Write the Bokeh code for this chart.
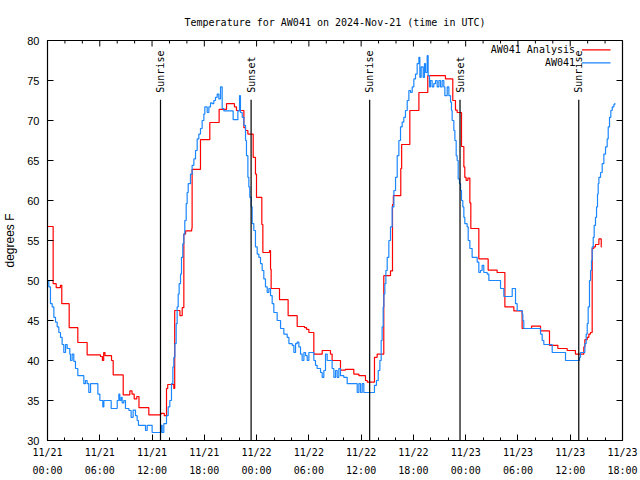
import math
from bokeh.plotting import figure
from bokeh.models import FixedTicker, LinearAxis, Range1d
from bokeh.embed import file_html
from bokeh.resources import INLINE
from bokeh.core.properties import value

# ---- data (hours since 2024-11-21 00:00 UTC, degrees F) ----
red_hours = [0.0, 0.65, 1.0, 1.48, 1.64, 2.49, 3.48, 4.55, 6.08, 6.3, 6.45, 6.6, 7.35, 7.54,
             8.69, 9.45, 9.7, 9.95, 10.25, 10.5, 11.63, 13.0, 13.4, 13.66, 13.8, 14.5, 14.6,
             15.2, 15.46, 15.65, 15.85, 16.55, 16.6, 17.56, 18.63, 19.7, 20.55, 21.46, 21.69,
             22.54, 22.73, 23.0, 23.61, 23.87, 23.99, 24.6, 24.72, 25.48, 25.6, 25.67, 26.63,
             27.62, 28.66, 29.5, 29.73, 30.0, 30.57, 31.53, 32.48, 32.67, 33.63, 34.2, 35.16,
             35.74, 36.5, 36.7, 37.53, 37.84, 38.6, 39.37, 39.6, 39.7, 40.55, 40.65, 41.59,
             42.63, 43.65, 45.68, 46.52, 46.83, 47.02, 47.52, 47.79, 47.9, 48.05, 48.25, 48.48,
             48.59, 49.51, 50.58, 51.61, 52.5, 53.53, 54.48, 55.56, 56.59, 57.62, 58.58, 59.65,
             60.6, 61.56, 61.68, 61.95, 62.14, 62.33, 62.52, 62.71, 62.9, 63.29, 63.56, 63.62]
red_temps = [56.75, 49.6, 49.1, 49.4, 47.1, 44.1, 42.25, 40.7, 40.5, 40.0, 41.0, 40.6, 40.0, 38.2,
             35.7, 36.2, 35.8, 35.2, 35.5, 34.1, 33.2, 33.4, 33.1, 36.5, 37.0, 36.5, 46.25,
             45.6, 46.6, 55.8, 56.2, 56.5, 63.9, 67.6, 69.75, 71.4, 72.1, 71.7, 71.25,
             69.1, 68.75, 68.3, 65.4, 63.3, 60.4, 57.0, 53.5, 53.75, 51.4, 49.0, 47.6,
             45.6, 44.25, 44.1, 43.9, 43.5, 40.8, 41.25, 40.8, 40.0, 38.8, 38.9, 38.3,
             38.1, 37.5, 37.3, 40.4, 40.8, 50.6, 51.2, 59.5, 60.6, 64.0, 67.0, 71.25,
             73.5, 75.6, 75.2, 72.5, 71.3, 71.0, 66.75, 64.2, 62.9, 62.5, 62.8, 59.7,
             56.5, 52.7, 51.3, 51.0, 46.7, 46.2, 44.0, 44.3, 43.7, 41.9, 41.5, 41.25,
             40.8, 41.7, 42.6, 42.9, 43.3, 43.5, 54.0, 54.2, 54.5, 55.2, 54.2, 54.2]

blue_hours = [0.0, 0.15, 0.34, 0.54, 0.73, 0.92, 1.11, 1.30, 1.49, 1.68, 1.87, 2.07, 2.26, 2.56,
              2.64, 2.83, 3.02, 3.21, 3.48, 4.17, 4.36, 4.55, 4.74, 4.94, 5.78, 6.01, 6.35, 6.47,
              7.31, 8.0, 8.19, 8.30, 8.46, 8.57, 8.76, 8.95, 9.34, 9.6, 9.83, 10.1, 10.29, 10.44,
              11.25, 11.44, 12.01, 13.05, 13.16, 13.35, 13.66, 13.85, 14.04, 14.23, 14.39, 14.5,
              14.62, 14.77, 14.88, 15.0, 15.11, 15.27, 15.38, 15.53, 15.65, 15.76, 15.92, 16.03,
              16.15, 16.41, 16.6, 16.8, 16.99, 17.18, 17.37, 17.56, 17.75, 17.95, 18.06, 18.33,
              18.52, 18.71, 18.9, 19.09, 19.28, 19.48, 19.67, 19.86, 20.05, 20.24, 21.31, 21.85,
              22.04, 22.15, 22.35, 22.54, 22.73, 22.84, 23.0, 23.11, 23.22, 23.38, 23.49, 23.68,
              23.87, 24.07, 24.26, 24.45, 24.64, 24.83, 25.02, 25.22, 25.41, 25.6, 25.79, 25.98,
              26.36, 26.75, 27.13, 27.51, 27.71, 28.09, 28.28, 28.47, 28.66, 28.85, 29.04, 29.23,
              29.43, 29.62, 29.81, 30.0, 30.57, 30.76, 30.95, 31.34, 31.53, 31.72, 31.91, 32.1,
              32.67, 32.87, 33.06, 33.25, 33.44, 33.63, 34.01, 34.4, 35.55, 35.74, 35.93, 36.12,
              36.31, 37.53, 37.76, 37.96, 38.15, 38.3, 38.41, 38.53, 38.61, 38.72, 38.84, 38.99,
              39.18, 39.37, 39.56, 39.76, 39.95, 40.14, 40.33, 40.52, 40.71, 40.9, 41.09, 41.29,
              41.48, 41.67, 41.86, 42.05, 42.24, 42.43, 42.63, 42.74, 42.89, 43.12, 43.27, 43.39,
              43.58, 43.69, 43.85, 43.96, 44.15, 44.34, 44.54, 44.73, 44.92, 45.11, 45.3, 45.49,
              45.61, 45.88, 46.07, 46.26, 46.37, 46.45, 46.64, 46.76, 46.91, 47.02, 47.14, 47.29,
              47.41, 47.52, 47.67, 47.79, 47.9, 48.17, 48.29, 48.48, 48.74, 49.32, 49.51, 49.7,
              49.89, 50.08, 50.47, 50.66, 52.0, 52.38, 53.34, 53.72, 53.91, 54.48, 54.56, 54.67,
              56.59, 56.78, 56.97, 57.93, 59.46, 61.07, 61.18, 61.68, 61.83, 61.95, 62.06, 62.21,
              62.33, 62.44, 62.52, 62.64, 62.75, 62.9, 63.02, 63.13, 63.21, 63.29, 63.48, 63.67,
              63.86, 64.05, 64.24, 64.36, 64.51, 64.66, 64.82, 65.01, 65.12]
blue_temps = [50.0, 49.2, 47.1, 46.7, 45.4, 44.8, 44.2, 43.5, 42.9, 42.0, 41.0, 42.0, 41.5, 40.8,
              40.0, 40.8, 39.9, 39.0, 38.1, 37.1, 37.5, 37.1, 36.0, 37.1, 35.8, 35.0, 34.2, 35.0,
              34.0, 35.0, 35.8, 35.0, 35.4, 34.7, 35.0, 34.0, 33.75, 32.9, 33.8, 33.1, 32.5, 31.9,
              31.25, 31.9, 31.0, 31.9, 31.0, 32.1, 33.1, 34.2, 35.0, 37.1, 39.2, 40.4,
              42.1, 44.6, 46.7, 48.3, 49.6, 50.8, 52.9, 54.6, 55.8, 57.5, 59.6, 61.0,
              62.1, 63.3, 64.4, 65.2, 66.25, 67.7, 68.3, 69.0, 70.0, 70.8, 71.7, 71.0,
              71.7, 72.2, 72.1, 72.5, 72.9, 73.3, 72.7, 74.2, 71.5, 71.2, 70.1, 71.2,
              73.1, 71.0, 70.4, 69.4, 67.5, 65.6, 62.9, 61.7, 60.4, 59.2, 57.1, 56.25,
              54.2, 53.3, 52.9, 52.1, 51.25, 50.2, 49.2, 48.5, 49.0, 48.1, 47.1, 46.0,
              45.0, 44.0, 43.3, 42.9, 42.1, 41.9, 41.0, 42.1, 42.3, 41.7, 40.8, 40.0,
              41.0, 40.6, 40.0, 41.0, 40.0, 39.4, 39.0, 38.5, 37.9, 38.75, 40.8, 40.0,
              39.0, 37.9, 38.75, 37.9, 39.0, 38.1, 37.9, 37.1, 36.0, 37.1, 36.0, 37.1,
              36.0, 36.9, 37.5, 38.75, 40.0, 42.5, 44.2, 46.7, 48.3, 49.6, 51.25, 52.9,
              55.0, 56.7, 59.2, 61.25, 62.9, 65.6, 67.5, 69.2, 69.8, 70.4, 71.25, 72.5,
              73.75, 73.5, 74.2, 75.2, 75.8, 77.1, 77.9, 75.4, 76.7, 75.4, 77.1, 76.0,
              78.1, 75.6, 74.2, 75.0, 74.2, 74.6, 75.0, 74.2, 75.0, 74.2, 75.0, 74.2,
              73.1, 74.2, 73.1, 72.3, 71.25, 70.0, 68.75, 67.5, 65.6, 65.0, 62.7, 62.1,
              61.25, 60.0, 59.2, 57.9, 57.1, 56.7, 55.0, 54.0, 52.9, 52.3, 51.0, 51.25,
              51.9, 51.0, 50.8, 50.0, 49.0, 48.0, 49.0, 47.1, 46.25, 45.8, 45.0, 44.0,
              43.3, 42.5, 42.0, 41.0, 40.0, 40.4, 41.0, 42.1, 43.3, 44.6, 46.7, 50.0,
              51.25, 52.5, 54.2, 55.4, 56.9, 57.9, 59.2, 60.8, 62.1, 62.9, 63.5, 64.6,
              65.8, 66.7, 67.7, 69.2, 70.4, 71.25, 71.7, 72.0, 72.2]

sun_hours = [12.97, 23.37, 36.98, 47.35, 60.98]
sun_labels = ["Sunrise", "Sunset", "Sunrise", "Sunset", "Sunrise"]

tick_hours = [0, 6, 12, 18, 24, 30, 36, 42, 48, 54, 60, 66]
tick_dates = ["11/21", "11/21", "11/21", "11/21", "11/22", "11/22", "11/22", "11/22",
              "11/23", "11/23", "11/23", "11/23"]
tick_times = ["00:00", "06:00", "12:00", "18:00"] * 3
minor_hours = list(range(0, 67, 2))
y_ticks = [30, 35, 40, 45, 50, 55, 60, 65, 70, 75, 80]

series_names = ["AW041 Analysis", "AW041"]
RED = "#ff0000"
BLUE = "#1a86ff"
MONO = "DejaVu Sans Mono"
SANS = "Liberation Sans"

X0, X1, Y0, Y1 = 0, 66, 30, 80
FW, FH = 575, 400
px_x = (X1 - X0) / FW
px_y = (Y1 - Y0) / FH

p = figure(frame_width=FW, frame_height=FH, x_range=Range1d(X0, X1), y_range=Range1d(Y0, Y1),
           output_backend="svg", toolbar_location=None,
           min_border_left=47, min_border_right=16, min_border_top=40, min_border_bottom=38)

p.title.text = "Temperature for AW041 on 2024-Nov-21 (time in UTC)"
p.title.align = "center"
p.title.text_font = MONO
p.title.text_font_size = "10px"
p.title.text_font_style = "normal"
p.title.text_color = "black"
p.title.standoff = 26

p.grid.visible = False
p.outline_line_color = "black"
p.outline_line_width = 1.2
p.background_fill_color = "white"
p.border_fill_color = "white"

xt = FixedTicker(ticks=tick_hours, minor_ticks=minor_hours)
yt = FixedTicker(ticks=y_ticks, minor_ticks=[])

# bottom axis: dates
xa = p.xaxis[0]
xa.ticker = xt
xa.major_label_overrides = {h: d for h, d in zip(tick_hours, tick_dates)}
xa.major_tick_in = 6
xa.major_tick_out = 0
xa.minor_tick_in = 3
xa.minor_tick_out = 0
xa.major_label_standoff = 6
xa.axis_label_standoff = 0
xa.major_label_text_font = MONO
xa.major_label_text_font_size = "10px"
xa.major_label_text_color = "black"
xa.axis_line_color = "black"
xa.major_tick_line_color = "black"
xa.minor_tick_line_color = "black"

# bottom axis 2: times (second label line)
xa2 = LinearAxis(ticker=FixedTicker(ticks=tick_hours, minor_ticks=[]),
                 major_label_overrides={h: t for h, t in zip(tick_hours, tick_times)},
                 axis_line_color=None, major_tick_line_color=None, minor_tick_line_color=None,
                 major_tick_in=0, major_tick_out=0, minor_tick_in=0, minor_tick_out=0,
                 major_label_standoff=4, axis_label_standoff=0,
                 major_label_text_font=MONO, major_label_text_font_size="10px",
                 major_label_text_color="black")
p.add_layout(xa2, "below")

# left axis
ya = p.yaxis[0]
ya.ticker = yt
ya.major_tick_in = 6
ya.major_tick_out = 0
ya.major_label_standoff = 8
ya.major_label_text_font = SANS
ya.major_label_text_font_size = "11px"
ya.major_label_text_color = "black"
ya.axis_label = "degrees F"
ya.axis_label_text_font = SANS
ya.axis_label_text_font_size = "12px"
ya.axis_label_text_font_style = "normal"
ya.axis_label_text_color = "black"
ya.axis_label_standoff = 7
ya.axis_line_color = "black"
ya.major_tick_line_color = "black"

# mirrored tick marks on the top and right edges of the frame
top_major = [h for h in minor_hours if h in tick_hours]
top_minor = [h for h in minor_hours if h not in tick_hours]
p.segment(x0=top_major, y0=[Y1] * len(top_major), x1=top_major,
          y1=[Y1 - 6 * px_y] * len(top_major), line_color="black", line_width=1)
p.segment(x0=top_minor, y0=[Y1] * len(top_minor), x1=top_minor,
          y1=[Y1 - 3 * px_y] * len(top_minor), line_color="black", line_width=1)
p.segment(x0=[X1] * len(y_ticks), y0=y_ticks, x1=[X1 - 6 * px_x] * len(y_ticks), y1=y_ticks,
          line_color="black", line_width=1)

# data
p.step(red_hours, red_temps, mode="after", line_color=RED, line_width=1.2)
p.step(blue_hours, blue_temps, mode="after", line_color=BLUE, line_width=1.2)

# sunrise / sunset markers
line_top = 72.6
p.segment(x0=sun_hours, y0=[Y0] * len(sun_hours), x1=sun_hours, y1=[line_top] * len(sun_hours),
          line_color="black", line_width=1.2)
p.text(x=sun_hours, y=[line_top + 7 * px_y] * len(sun_hours), text=sun_labels,
       angle=math.pi / 2, text_align="left", text_baseline="middle", text_font=value(MONO),
       text_font_size="10px", text_color="black")

# legend (gnuplot style: text right-aligned, sample line on the right)
leg_text_x = X1 - 47.5 * px_x
leg_line_x0 = X1 - 40.5 * px_x
leg_line_x1 = X1 - 12 * px_x
for i, (name, col) in enumerate(zip(series_names, [RED, BLUE])):
    yy = Y1 - (9.3 + 13 * i) * px_y
    p.text(x=[leg_text_x], y=[yy], text=[name], text_align="right", text_baseline="middle",
           text_font=value(MONO), text_font_size="10px", text_color="black")
    p.segment(x0=[leg_line_x0], y0=[yy], x1=[leg_line_x1], y1=[yy], line_color=col,
              line_width=1.2)

open("out.html", "w").write(file_html(p, INLINE))
